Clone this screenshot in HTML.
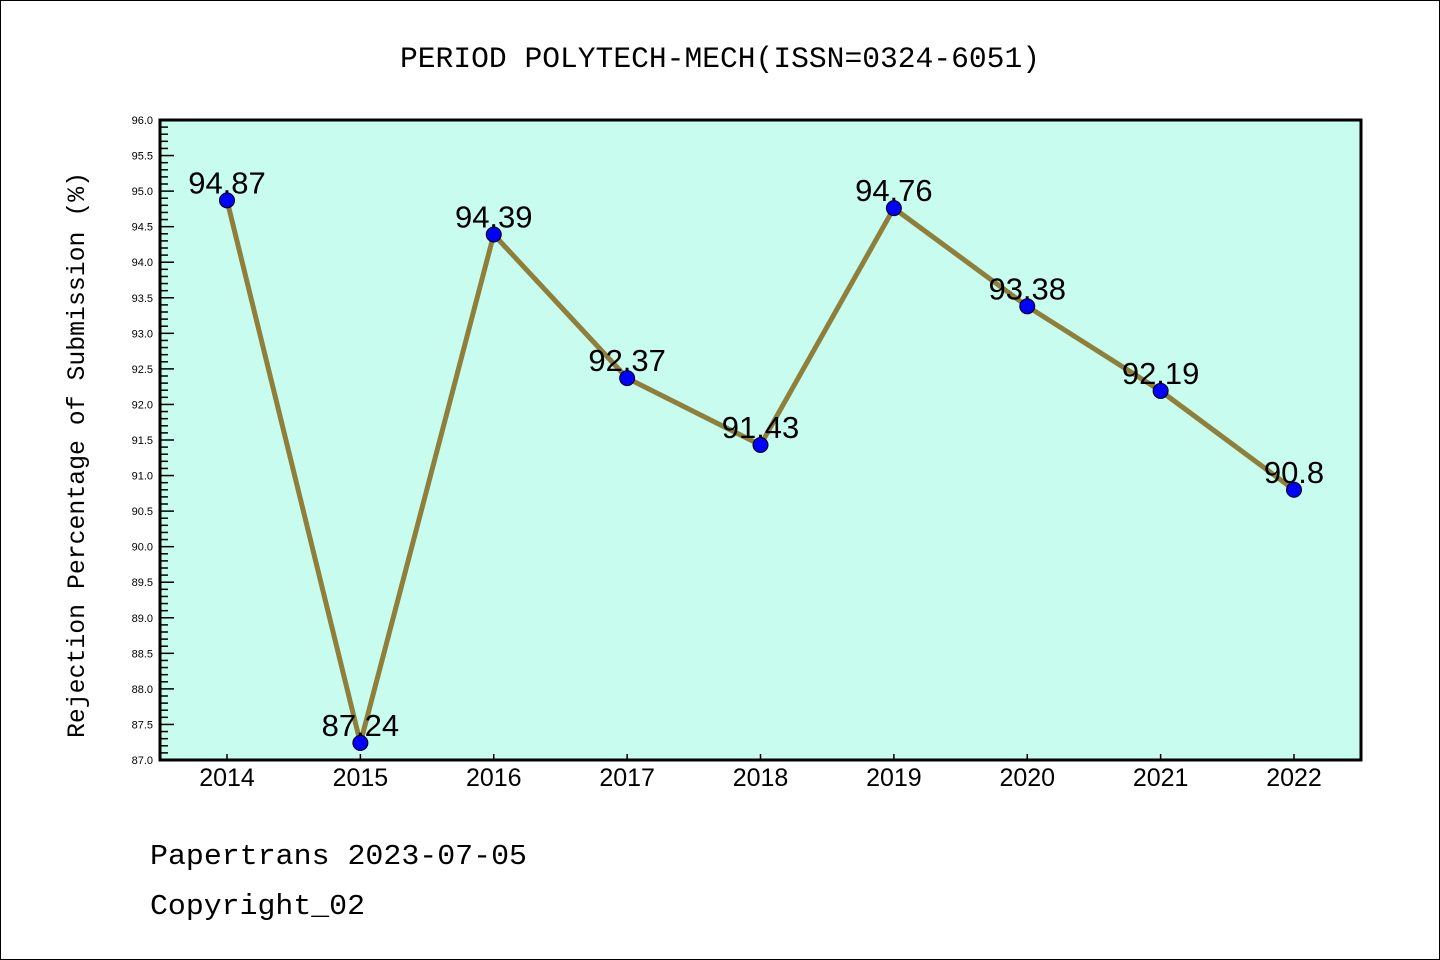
<!DOCTYPE html>
<html><head><meta charset="utf-8"><style>
html,body{margin:0;padding:0;background:#fff}
svg{display:block}
</style></head><body>
<svg id="chart" width="1440" height="960" xmlns="http://www.w3.org/2000/svg">
<rect x="0.5" y="0.5" width="1439" height="959" fill="#fff" stroke="#000" stroke-width="1"/>
<text x="400" y="67" textLength="640" lengthAdjust="spacingAndGlyphs" font-family="Liberation Mono, monospace" font-size="30">PERIOD POLYTECH-MECH(ISSN=0324-6051)</text>
<rect x="160" y="120" width="1201" height="640" fill="#c7fcee"/>
<g id="ticks"></g>
<g id="series"></g>
<rect x="160" y="120" width="1201" height="640" fill="none" stroke="#000" stroke-width="3"/>
<text transform="translate(84,455) rotate(-90)" text-anchor="middle" textLength="566" lengthAdjust="spacingAndGlyphs" font-family="Liberation Mono, monospace" font-size="25">Rejection Percentage of Submission (%)</text>
<text x="150" y="864" textLength="377" lengthAdjust="spacingAndGlyphs" font-family="Liberation Mono, monospace" font-size="29">Papertrans 2023-07-05</text>
<text x="150" y="914" textLength="215" lengthAdjust="spacingAndGlyphs" font-family="Liberation Mono, monospace" font-size="29">Copyright_02</text>
</svg>
<script>
const years=['2014','2015','2016','2017','2018','2019','2020','2021','2022'];
const values=[94.87,87.24,94.39,92.37,91.43,94.76,93.38,92.19,90.8];
const valueLabels=['94.87','87.24','94.39','92.37','91.43','94.76','93.38','92.19','90.8'];
const yMin=87.0, yMax=96.0;
const NS='http://www.w3.org/2000/svg';
function yS(v){return 760-(v-yMin)/(yMax-yMin)*640;}
function xS(i){return 227+i*(1294-227)/(years.length-1);}
function mk(t,a,p){const e=document.createElementNS(NS,t);for(const k in a)e.setAttribute(k,a[k]);p.appendChild(e);return e;}
const tk=document.getElementById('ticks');
for(let j=0;j<=90;j++){
  const v=yMin+j*0.1, y=yS(v), major=j%5===0;
  const l=mk('line',{x1:160,x2:160+(major?14:8),y1:y,y2:y,stroke:'#000','stroke-width':1.5},tk);
  
  
  if(major){
    const t=mk('text',{x:153,y:y+4,'text-anchor':'end','font-family':'Liberation Sans, sans-serif','font-size':11},tk);
    
    
    t.textContent=v.toFixed(1);
  }
}
years.forEach((yr,i)=>{
  const x=xS(i);
  const l=mk('line',{x1:x,x2:x,y1:760,y2:754,stroke:'#000','stroke-width':1.5},tk);
  
  
  const t=mk('text',{x:x,y:786,'text-anchor':'middle','font-family':'Liberation Sans, sans-serif','font-size':25},tk);
  
  
  t.textContent=yr;
});
const sg=document.getElementById('series');
const pts=values.map((v,i)=>xS(i)+','+yS(v)).join(' ');
const pl=mk('polyline',{points:pts,fill:'none',stroke:'#8f7f3a','stroke-width':5,'stroke-linejoin':'round'},sg);


values.forEach((v,i)=>{
  const c=mk('circle',{cx:xS(i),cy:yS(v),r:7.5,fill:'#0000ff',stroke:'#000','stroke-width':1},sg);
  
  
  const t=mk('text',{x:xS(i),y:yS(v)-7,'text-anchor':'middle','font-family':'Liberation Sans, sans-serif','font-size':31},sg);
  
  
  t.textContent=valueLabels[i];
});
</script>
</body></html>
